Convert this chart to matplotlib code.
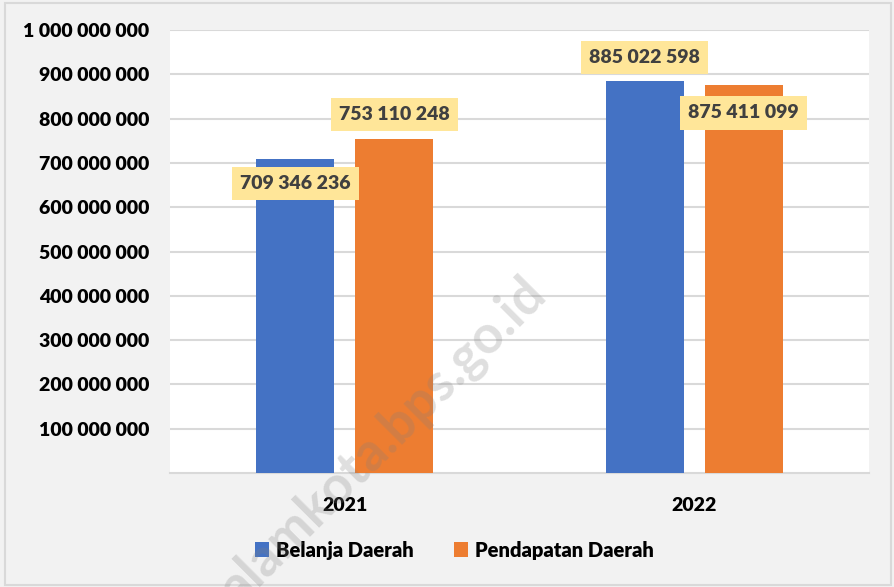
import matplotlib
matplotlib.use("Agg")
import matplotlib.pyplot as plt
import numpy as np
from matplotlib.patches import Rectangle

years = ["2021", "2022"]
belanja = [709346236, 885022598]
pendapatan = [753110248, 875411099]
series_names = ["Belanja Daerah", "Pendapatan Daerah"]
y_ticks = [100000000 * i for i in range(1, 11)]

plt.rcParams['font.family'] = ['Lato', 'DejaVu Sans']
plt.rcParams['font.weight'] = 'bold'

fig = plt.figure(figsize=(8.95, 5.87), dpi=100)
fig.patch.set_facecolor("#f2f2f2")
fig.patches.append(Rectangle((0.006, 0.003), 0.99, 0.992, transform=fig.transFigure,
                             fill=False, edgecolor="#d9d9d9", linewidth=1.5))

ax = fig.add_axes([0.19, 0.1942, 0.781, 0.7547])
ax.set_facecolor("white")

x = np.arange(len(years))
w = 0.223
off = 0.1416
ax.bar(x - off, belanja, w, color="#4472c4", label=series_names[0], zorder=3)
ax.bar(x + off, pendapatan, w, color="#ed7d31", label=series_names[1], zorder=3)

ax.set_ylim(0, 1000000000)
ax.set_xlim(-0.5, 1.5)
ax.set_yticks(y_ticks)
ax.set_yticklabels(["{:,}".format(v).replace(",", " ") for v in y_ticks],
                   fontweight="heavy", fontsize=14)
ax.set_xticks(x)
ax.set_xticklabels(years, fontweight="heavy", fontsize=14)
ax.tick_params(axis="both", length=0, colors="black")
ax.tick_params(axis="y", pad=15)
ax.tick_params(axis="x", pad=17)
ax.grid(axis="y", color="#d9d9d9", linewidth=1.5, zorder=0)
for s in ["top", "right", "left"]:
    ax.spines[s].set_visible(False)
ax.spines["bottom"].set_color("#d9d9d9")
ax.spines["bottom"].set_linewidth(1.5)

# label offsets in points (positive = above bar top)
label_offsets = [[-18, 17], [18, -20]]
for i in range(len(years)):
    for j, vals in enumerate([belanja, pendapatan]):
        xpos = x[i] + (-off if j == 0 else off)
        ax.annotate("{:,}".format(vals[i]).replace(",", " "), (xpos, vals[i]),
                    xytext=(0, label_offsets[j][i]), textcoords="offset points",
                    ha="center", va="center", fontsize=14, color="#404040",
                    fontweight="heavy", zorder=5,
                    bbox=dict(boxstyle="square,pad=0.42", facecolor="#ffe699", edgecolor="none"))

leg = fig.legend(loc="center", bbox_to_anchor=(0.508, 0.063), ncol=2, frameon=False,
                 prop={"size": 14.5, "weight": "heavy"}, handlelength=0.7, handleheight=0.7,
                 handletextpad=0.35, columnspacing=2.0)

fig.text(0.428, 0.25, "alamkota.bps.go.id", rotation=45, fontsize=38, color="#808080",
         alpha=0.25, ha="center", va="center", fontweight="bold", zorder=10)

fig.savefig("out.png", dpi=100, facecolor=fig.get_facecolor())
